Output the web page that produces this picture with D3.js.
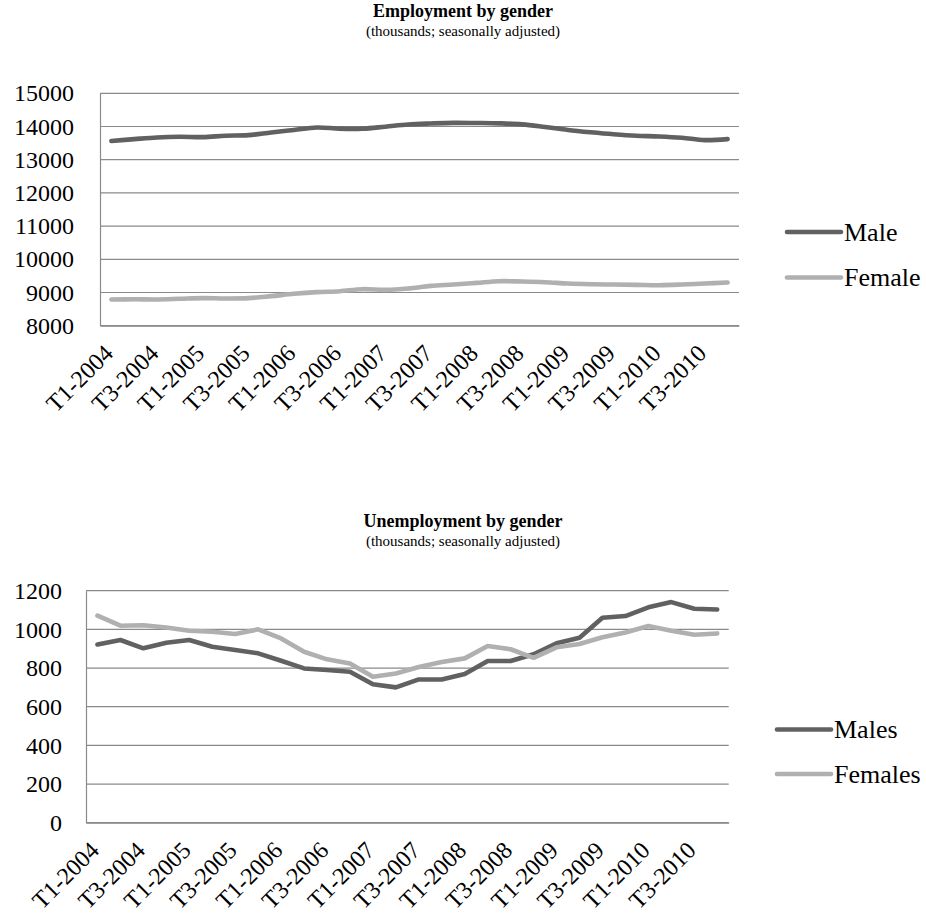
<!DOCTYPE html>
<html>
<head>
<meta charset="utf-8">
<script src="https://cdn.jsdelivr.net/npm/d3@7/dist/d3.min.js"></script>
<style>
  html, body { margin: 0; padding: 0; background: #fff; }
  svg { display: block; }
  svg text { font-family: "Liberation Serif", "Times New Roman", "DejaVu Serif", serif; }
</style>
</head>
<body>
<svg id="chart" width="926" height="920"></svg>
<script>
// Quarters 2004–2010
const quarters = [
  "T1-2004","T2-2004","T3-2004","T4-2004",
  "T1-2005","T2-2005","T3-2005","T4-2005",
  "T1-2006","T2-2006","T3-2006","T4-2006",
  "T1-2007","T2-2007","T3-2007","T4-2007",
  "T1-2008","T2-2008","T3-2008","T4-2008",
  "T1-2009","T2-2009","T3-2009","T4-2009",
  "T1-2010","T2-2010","T3-2010","T4-2010"
];

// Employment (thousands, seasonally adjusted)
const employmentMale = [
  13565, 13620, 13670, 13690, 13680, 13720, 13740, 13820,
  13895, 13970, 13935, 13935, 13995, 14060, 14090, 14110,
  14105, 14095, 14065, 13985, 13895, 13825, 13765, 13720,
  13700, 13660, 13590, 13620
];
const employmentFemale = [
  8790, 8795, 8790, 8810, 8830, 8820, 8830, 8890,
  8960, 9010, 9040, 9100, 9080, 9120, 9200, 9240,
  9290, 9340, 9330, 9310, 9270, 9250, 9240, 9230,
  9220, 9240, 9270, 9300
];
const employmentTicks = [8000, 9000, 10000, 11000, 12000, 13000, 14000, 15000];

// Unemployment (thousands, seasonally adjusted)
const unemploymentMales = [
  922, 945, 902, 931, 945, 910, 893, 876,
  838, 798, 790, 781, 716, 700, 741, 741,
  769, 836, 836, 871, 928, 957, 1060, 1069,
  1114, 1141, 1107, 1103
];
const unemploymentFemales = [
  1071, 1019, 1021, 1010, 993, 988, 976, 1000,
  953, 884, 845, 824, 755, 772, 805, 831,
  850, 914, 897, 853, 907, 924, 959, 984,
  1017, 993, 972, 979
];
const unemploymentTicks = [0, 200, 400, 600, 800, 1000, 1200];

const darkGrey = "#616161";
const lightGrey = "#b0b0b0";
const gridGrey = "#8a8a8a";

const svg = d3.select("#chart");

function drawPanel(cfg) {
  const g = svg.append("g");

  const x = d3.scaleBand().domain(quarters).range([cfg.left, cfg.right]).paddingInner(0).paddingOuter(0);
  const y = d3.scaleLinear().domain(cfg.domain).range([cfg.bottom, cfg.top]);
  const cx = q => x(q) + x.bandwidth() / 2;

  // titles
  g.append("text")
    .attr("x", cfg.titleX).attr("y", cfg.titleY)
    .attr("text-anchor", "middle")
    .attr("font-size", 18).attr("font-weight", "bold")
    .attr("fill", "#000")
    .text(cfg.title);
  g.append("text")
    .attr("x", cfg.titleX).attr("y", cfg.titleY + 19)
    .attr("text-anchor", "middle")
    .attr("font-size", 15)
    .attr("fill", "#000")
    .text("(thousands; seasonally adjusted)");

  // horizontal gridlines
  g.append("g")
    .selectAll("line")
    .data(cfg.ticks)
    .join("line")
    .attr("x1", cfg.left).attr("x2", cfg.right)
    .attr("y1", d => y(d)).attr("y2", d => y(d))
    .attr("stroke", gridGrey).attr("stroke-width", 1.2);

  // y axis
  const yAxis = g.append("g")
    .attr("transform", `translate(${cfg.left},0)`)
    .call(d3.axisLeft(y).tickValues(cfg.ticks).tickSize(0).tickPadding(cfg.yPad).tickFormat(d3.format("d")));
  yAxis.select(".domain").attr("stroke", gridGrey).attr("stroke-width", 1.2);
  yAxis.selectAll("text")
    .attr("font-size", 24)
    .attr("fill", "#000");

  // x axis, every other quarter labelled
  const xAxis = g.append("g")
    .attr("transform", `translate(0,${cfg.bottom})`)
    .call(d3.axisBottom(x).tickValues(quarters.filter((d, i) => i % 2 === 0)).tickSize(0).tickPadding(0));
  xAxis.select(".domain").attr("stroke", gridGrey).attr("stroke-width", 1.2);
  xAxis.selectAll("text")
    .attr("font-size", 24)
    .attr("fill", "#000")
    .attr("text-anchor", "end")
    .attr("y", 0)
    .attr("dy", 0)
    .attr("transform", "translate(3,29) rotate(-45)");

  // series lines
  const line = d3.line()
    .x((d, i) => cx(quarters[i]))
    .y(d => y(d))
    .curve(cfg.curve);

  cfg.series.forEach(s => {
    g.append("path")
      .datum(s.values)
      .attr("d", line)
      .attr("fill", "none")
      .attr("stroke", s.color)
      .attr("stroke-width", 4.6)
      .attr("stroke-linecap", "round")
      .attr("stroke-linejoin", "round");
  });

  // legend
  const lg = g.append("g");
  cfg.series.forEach((s, i) => {
    const ly = cfg.legendY + i * cfg.legendGap;
    lg.append("line")
      .attr("x1", cfg.legendX).attr("x2", cfg.legendX + 54)
      .attr("y1", ly).attr("y2", ly)
      .attr("stroke", s.color).attr("stroke-width", 4.6)
      .attr("stroke-linecap", "round");
    lg.append("text")
      .attr("x", cfg.legendX + 57).attr("y", ly)
      .attr("dy", "0.33em")
      .attr("font-size", 26)
      .attr("fill", "#000")
      .text(s.name);
  });
}

drawPanel({
  title: "Employment by gender",
  titleX: 463, titleY: 17,
  left: 100, right: 739, top: 93.3, bottom: 325.7,
  domain: [8000, 15000], ticks: employmentTicks, yPad: 26,
  curve: d3.curveCatmullRom.alpha(0.5),
  series: [
    { name: "Male", values: employmentMale, color: darkGrey },
    { name: "Female", values: employmentFemale, color: lightGrey }
  ],
  legendX: 787, legendY: 232, legendGap: 45.5
});

drawPanel({
  title: "Unemployment by gender",
  titleX: 463, titleY: 527,
  left: 86, right: 728.7, top: 590.7, bottom: 822.7,
  domain: [0, 1200], ticks: unemploymentTicks, yPad: 24,
  curve: d3.curveLinear,
  series: [
    { name: "Males", values: unemploymentMales, color: darkGrey },
    { name: "Females", values: unemploymentFemales, color: lightGrey }
  ],
  legendX: 777, legendY: 729.5, legendGap: 44.5
});
</script>
</body>
</html>
